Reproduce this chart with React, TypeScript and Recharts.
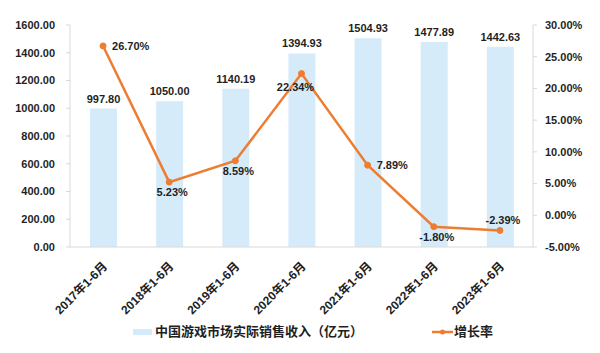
import React from "react";
import {
  ComposedChart,
  Bar,
  Line,
  XAxis,
  YAxis,
  LabelList,
} from "recharts";

// H1 revenue and growth, China game market
const periods = [
  "2017年1-6月",
  "2018年1-6月",
  "2019年1-6月",
  "2020年1-6月",
  "2021年1-6月",
  "2022年1-6月",
  "2023年1-6月",
];
const revenue = [997.8, 1050.0, 1140.19, 1394.93, 1504.93, 1477.89, 1442.63];
const growth = [0.267, 0.0523, 0.0859, 0.2234, 0.0789, -0.018, -0.0239];

const leftTicks = [0, 200, 400, 600, 800, 1000, 1200, 1400, 1600];
const rightTicks = [-0.05, 0, 0.05, 0.1, 0.15, 0.2, 0.25, 0.3];

const revenueName = "中国游戏市场实际销售收入（亿元）";
const growthName = "增长率";

// where each growth label sits relative to its point
const growthLabelSide = ["right", "below", "below", "belowLeft", "right", "below", "above"];

const FONT = "'Liberation Sans', Arial, 'Noto Sans CJK SC', sans-serif";
const BAR_COLOR = "#d5ebfa";
const LINE_COLOR = "#ed7d31";
const AXIS_COLOR = "#d9d9d9";
const TEXT = "#1f1f1f";

const data = periods.map((p, i) => ({
  period: p,
  revenue: revenue[i],
  growth: growth[i],
}));

const XTick = (props: any) => {
  const { x, y, payload } = props;
  return (
    <g transform={`translate(${x + 5},${y + 12})`}>
      <text
        transform="rotate(-45)"
        textAnchor="end"
        fontSize={12}
        fontWeight="bold"
        fontFamily={FONT}
        fill={TEXT}
      >
        {payload.value}
      </text>
    </g>
  );
};

const GrowthLabel = (props: any) => {
  const { x, y, value, index } = props;
  const side = growthLabelSide[index];
  let tx = x;
  let ty = y;
  let anchor: "start" | "middle" | "end" = "middle";
  if (side === "right") {
    tx = x + 9;
    ty = y + 4;
    anchor = "start";
  } else if (side === "below") {
    tx = x + 3;
    ty = y + 14;
  } else if (side === "belowLeft") {
    tx = x - 6;
    ty = y + 17;
  } else if (side === "above") {
    tx = x + 3;
    ty = y - 6;
  }
  return (
    <text
      x={tx}
      y={ty}
      textAnchor={anchor}
      fontSize={11}
      fontWeight="bold"
      fontFamily={FONT}
      fill={TEXT}
    >
      {(value * 100).toFixed(2) + "%"}
    </text>
  );
};

export default function App() {
  return (
    <div
      style={{
        position: "absolute",
        left: 0,
        top: 0,
        width: 600,
        height: 353,
        background: "#fff",
        fontFamily: FONT,
      }}
    >
      <ComposedChart
        width={600}
        height={353}
        data={data}
        margin={{ top: 25, right: 0, left: 0, bottom: 0 }}
        barCategoryGap={0}
      >
        <XAxis
          dataKey="period"
          interval={0}
          height={106}
          tickLine={false}
          axisLine={{ stroke: AXIS_COLOR }}
          tick={<XTick />}
        />
        <YAxis
          yAxisId="left"
          width={70}
          domain={[0, 1600]}
          ticks={leftTicks}
          interval={0}
          tickFormatter={(v: number) => v.toFixed(2)}
          tick={{ fill: TEXT, fontSize: 11, fontWeight: "bold", fontFamily: FONT }}
          tickSize={4}
          tickMargin={11}
          tickLine={{ stroke: AXIS_COLOR }}
          axisLine={{ stroke: AXIS_COLOR }}
        />
        <YAxis
          yAxisId="right"
          orientation="right"
          width={67}
          domain={[-0.05, 0.3]}
          ticks={rightTicks}
          interval={0}
          tickFormatter={(v: number) => (v * 100).toFixed(2) + "%"}
          tick={{ fill: TEXT, fontSize: 11, fontWeight: "bold", fontFamily: FONT, textAnchor: "start" }}
          tickSize={4}
          tickMargin={8}
          tickLine={{ stroke: AXIS_COLOR }}
          axisLine={{ stroke: AXIS_COLOR }}
        />
        <Bar
          yAxisId="left"
          dataKey="revenue"
          name={revenueName}
          fill={BAR_COLOR}
          barSize={27}
          isAnimationActive={false}
        >
          <LabelList
            dataKey="revenue"
            position="top"
            offset={6}
            formatter={(v: any) => Number(v).toFixed(2)}
            style={{ fill: TEXT, fontSize: 11, fontWeight: "bold", fontFamily: FONT }}
          />
        </Bar>
        <Line
          yAxisId="right"
          dataKey="growth"
          name={growthName}
          type="linear"
          stroke={LINE_COLOR}
          strokeWidth={2.5}
          dot={{ r: 3, fill: LINE_COLOR, stroke: LINE_COLOR, strokeWidth: 1 }}
          isAnimationActive={false}
        >
          <LabelList dataKey="growth" content={<GrowthLabel />} />
        </Line>
      </ComposedChart>
      <div
        style={{
          position: "absolute",
          top: 323,
          left: 0,
          width: 600,
          height: 18,
          fontSize: 13,
          fontWeight: "bold",
          color: TEXT,
          lineHeight: "18px",
        }}
      >
        <span style={{ position: "absolute", left: 133, top: 6, width: 19, height: 6, background: BAR_COLOR }} />
        <span style={{ position: "absolute", left: 155, top: 0, whiteSpace: "nowrap" }}>{revenueName}</span>
        <svg style={{ position: "absolute", left: 432, top: 4 }} width={21} height={10}>
          <line x1={0} y1={5} x2={21} y2={5} stroke={LINE_COLOR} strokeWidth={2.5} />
          <circle cx={10.5} cy={5} r={2.5} fill={LINE_COLOR} />
        </svg>
        <span style={{ position: "absolute", left: 454, top: 0, whiteSpace: "nowrap" }}>{growthName}</span>
      </div>
    </div>
  );
}
